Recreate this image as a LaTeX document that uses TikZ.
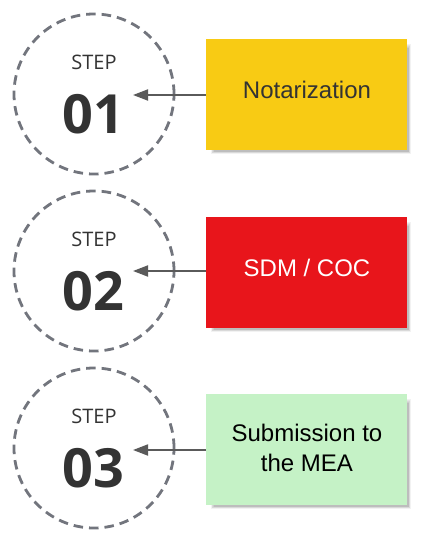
\documentclass[tikz,border=0pt]{standalone}
\usepackage{fontspec}
\setmainfont{Liberation Sans}
\newfontfamily\stepfont{Open Sans}
\usetikzlibrary{arrows.meta}
\definecolor{dashgray}{HTML}{72757D}
\definecolor{arrowgray}{HTML}{5A5A5A}
\definecolor{txtdark}{HTML}{333333}
\definecolor{noteyellow}{HTML}{F8CB14}
\definecolor{notered}{HTML}{E8151B}
\definecolor{notegreen}{HTML}{C5F2C6}
\tikzset{
  x=1pt, y=-1pt,
  stepcircle/.style={circle, draw=dashgray, line width=2.8pt, dash pattern=on 9.5pt off 6pt, minimum size=160pt, inner sep=0pt},
  steplabel/.style={font=\stepfont\fontsize{20}{22}\selectfont, text=txtdark},
  stepnum/.style={font=\stepfont\bfseries\fontsize{54}{56}\selectfont, text=txtdark},
  note/.style={minimum width=201pt, minimum height=111pt, inner sep=0pt},
  notetext/.style={font=\fontsize{24}{30}\selectfont, align=center},
  link/.style={draw=arrowgray, line width=1.8pt, -{Triangle[length=15pt,width=11pt]}},
}
\newcommand\noteshadow[2]{%
  \foreach \k/\o in {1/0.05,2/0.05,3/0.05,4/0.06,5/0.07}{
    \fill[black,opacity=\o] (#1+4-\k*0.2+\k,#2+4+\k) rectangle ++(201-\k*1.2,111-\k*1.5);
  }}
\begin{document}
\begin{tikzpicture}
\useasboundingbox[fill=white] (0,0) rectangle (422,543);
% shadows
\noteshadow{206}{39}
\noteshadow{206}{217}
\noteshadow{206}{394}
% step 1
\node[stepcircle] (c1) at (94,94) {};
\node[steplabel] (s1) at (94,62) {STEP};
\node[stepnum] (n1) at (93,114) {01};
\node[note, fill=noteyellow, anchor=north west] (b1) at (206,39) {};
\node[notetext, text=txtdark] (t1) at (307,90) {Notarization};
\coordinate (a1) at (133,95);
\draw[link] (b1.west |- a1) -- (a1);
% step 2
\node[stepcircle] (c2) at (94,271) {};
\node[steplabel] (s2) at (94,239) {STEP};
\node[stepnum] (n2) at (93,291) {02};
\node[note, fill=notered, anchor=north west] (b2) at (206,217) {};
\node[notetext, text=white] (t2) at (307,268) {SDM / COC};
\coordinate (a2) at (133,271);
\draw[link] (b2.west |- a2) -- (a2);
% step 3
\node[stepcircle] (c3) at (94,448) {};
\node[steplabel] (s3) at (94,416) {STEP};
\node[stepnum] (n3) at (93,468) {03};
\node[note, fill=notegreen, anchor=north west] (b3) at (206,394) {};
\node[notetext, text=black] (t3) at (307,448) {Submission to\\the MEA};
\coordinate (a3) at (133,450);
\draw[link] (b3.west |- a3) -- (a3);
\end{tikzpicture}
\end{document}
